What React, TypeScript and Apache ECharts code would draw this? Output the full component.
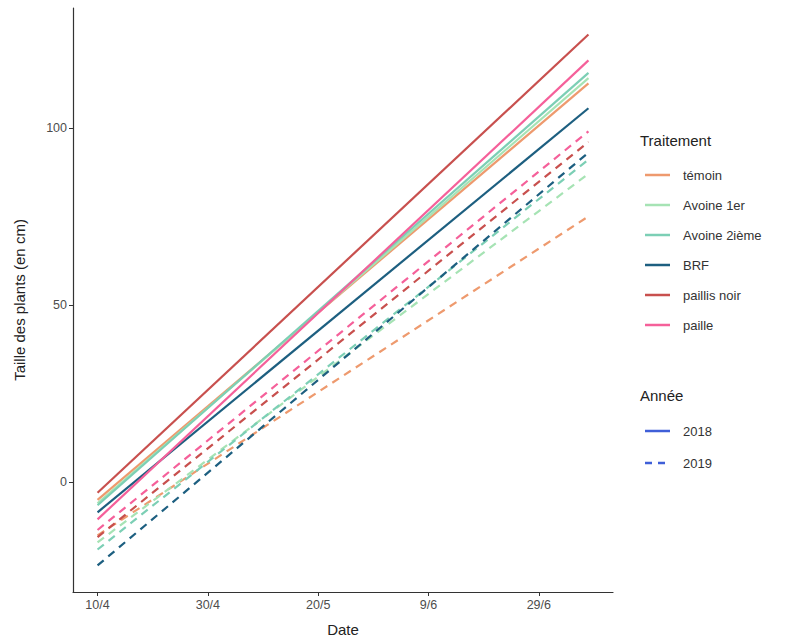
import React, { useEffect, useRef } from "react";
import * as echarts from "echarts";

// Days counted from 10 April; fits run from the first to the last measurement.
const startDay = 0;
const endDay = 89;

const treatments = ["témoin", "Avoine 1er", "Avoine 2ième", "BRF", "paillis noir", "paille"];
const treatmentColors = ["#EE9A6E", "#A6E3B4", "#7CCFB5", "#1D5F80", "#C8504E", "#F5609A"];

// Fitted plant height (cm) at the first and last day, per treatment.
const start2018 = [-5, -6, -6.5, -8.5, -3, -10.5];
const end2018 = [112.5, 114, 115.5, 105.5, 126.3, 119];
const start2019 = [-15, -17, -19, -23.5, -15.5, -13.5];
const end2019 = [75, 87, 91, 93, 96, 99];

const years = ["2018", "2019"];

const xTickDays = [0, 20, 40, 60, 80];
const xTickLabels = ["10/4", "30/4", "20/5", "9/6", "29/6"];
const yTicks = [0, 50, 100];

const FONT = "'Liberation Sans', Arial, sans-serif";

export default function App() {
  const ref = useRef<HTMLDivElement>(null);

  useEffect(() => {
    document.body.style.margin = "0";
    if (!ref.current) return;
    const chart = echarts.init(ref.current, null, { renderer: "svg" });

    const series: any[] = [];
    const addYear = (starts: number[], ends: number[], dashed: boolean) => {
      treatments.forEach((name, i) => {
        series.push({
          type: "line",
          name: name + (dashed ? " 2019" : " 2018"),
          data: [
            [startDay, starts[i]],
            [endDay, ends[i]],
          ],
          showSymbol: false,
          silent: true,
          lineStyle: {
            color: treatmentColors[i],
            width: 2.2,
            type: dashed ? [8, 6] : "solid",
          },
        });
      });
    };
    addYear(start2019, end2019, true);
    addYear(start2018, end2018, false);

    const dataMinY = Math.min(...start2019, ...start2018);
    const dataMaxY = Math.max(...end2018, ...end2019);
    const padY = (dataMaxY - dataMinY) * 0.05;
    const padX = (endDay - startDay) * 0.05;

    // Legend drawn by hand: two titled groups.
    const legendX = 645;
    const graphics: any[] = [];
    graphics.push({
      type: "text",
      left: legendX - 5,
      top: 133,
      style: { text: "Traitement", font: `15px ${FONT}`, fill: "#222" },
    });
    treatments.forEach((name, i) => {
      const y = 175 + i * 30;
      graphics.push({
        type: "line",
        shape: { x1: legendX, y1: y, x2: legendX + 25, y2: y },
        style: { stroke: treatmentColors[i], lineWidth: 2.5 },
      });
      graphics.push({
        type: "text",
        x: legendX + 38,
        y,
        style: {
          text: name,
          font: `13px ${FONT}`,
          fill: "#333",
          verticalAlign: "middle",
        },
      });
    });
    graphics.push({
      type: "text",
      left: legendX - 5,
      top: 388,
      style: { text: "Année", font: `15px ${FONT}`, fill: "#222" },
    });
    years.forEach((name, i) => {
      const y = 431 + i * 32;
      graphics.push({
        type: "line",
        shape: { x1: legendX, y1: y, x2: legendX + 25, y2: y },
        style: {
          stroke: "#3F5FD8",
          lineWidth: 2.5,
          lineDash: i === 0 ? null : [7, 6],
        },
      });
      graphics.push({
        type: "text",
        x: legendX + 38,
        y,
        style: {
          text: name,
          font: `13px ${FONT}`,
          fill: "#333",
          verticalAlign: "middle",
        },
      });
    });

    chart.setOption({
      animation: false,
      backgroundColor: "#fff",
      grid: { left: 73, top: 8, right: 172, bottom: 47, containLabel: false },
      xAxis: {
        type: "value",
        min: startDay - padX,
        max: endDay + padX,
        splitLine: { show: false },
        axisLine: { onZero: false, lineStyle: { color: "#333", width: 1.2 } },
        axisTick: { customValues: xTickDays, length: 4, lineStyle: { color: "#333" } },
        axisLabel: {
          customValues: xTickDays,
          formatter: (v: number) => xTickLabels[xTickDays.indexOf(Math.round(v))] ?? "",
          color: "#4D4D4D",
          fontSize: 12.5,
          fontFamily: FONT,
          margin: 6,
        },
        name: "Date",
        nameLocation: "middle",
        nameGap: 30,
        nameTextStyle: { fontSize: 15, color: "#222", fontFamily: FONT },
      },
      yAxis: {
        type: "value",
        min: dataMinY - padY,
        max: dataMaxY + padY,
        splitLine: { show: false },
        axisLine: { show: true, onZero: false, lineStyle: { color: "#333", width: 1.2 } },
        axisTick: { show: true, customValues: yTicks, length: 4, lineStyle: { color: "#333" } },
        axisLabel: {
          customValues: yTicks,
          color: "#4D4D4D",
          fontSize: 12.5,
          fontFamily: FONT,
          margin: 6,
        },
        name: "Taille des plants (en cm)",
        nameLocation: "middle",
        nameGap: 46,
        nameRotate: 90,
        nameTextStyle: { fontSize: 15, color: "#222", fontFamily: FONT },
      },
      series,
      graphic: graphics,
    });

    return () => chart.dispose();
  }, []);

  return <div ref={ref} style={{ width: 785, height: 642 }} />;
}
